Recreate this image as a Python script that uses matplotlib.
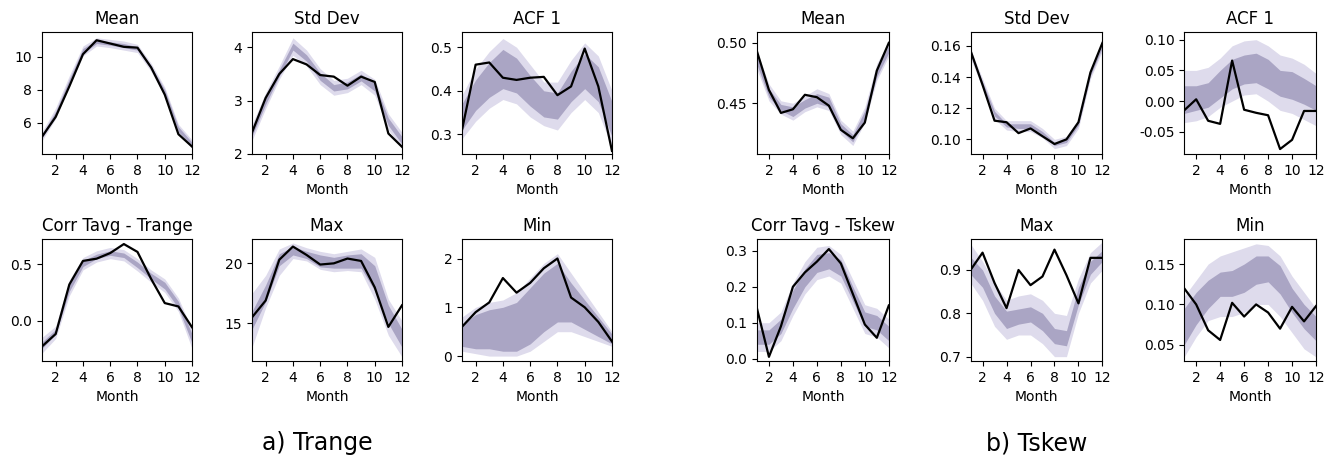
import matplotlib
matplotlib.use("Agg")
import matplotlib.pyplot as plt
import numpy as np

#--- Data (months 1..12)
months = np.arange(1, 13)

# a) Trange
tr_mean_obs = [5.15, 6.35, 8.2, 10.15, 11.0, 10.8, 10.6, 10.55, 9.35, 7.7, 5.3, 4.55]
tr_mean_out_lo = [4.9, 6.25, 8.25, 10.05, 10.65, 10.55, 10.4, 10.25, 9.1, 7.6, 5.3, 4.45]
tr_mean_out_hi = [5.45, 6.9, 8.85, 10.65, 11.15, 11.05, 10.95, 10.75, 9.6, 8.15, 5.9, 4.95]
tr_mean_in_lo = [5.05, 6.45, 8.45, 10.2, 10.8, 10.7, 10.55, 10.4, 9.25, 7.75, 5.45, 4.6]
tr_mean_in_hi = [5.3, 6.7, 8.65, 10.5, 11.0, 10.9, 10.8, 10.6, 9.45, 8.0, 5.75, 4.8]

tr_std_obs = [2.4, 3.05, 3.5, 3.78, 3.68, 3.48, 3.45, 3.28, 3.45, 3.35, 2.38, 2.13]
tr_std_out_lo = [2.25, 2.85, 3.4, 3.85, 3.65, 3.3, 3.1, 3.15, 3.3, 3.1, 2.45, 2.1]
tr_std_out_hi = [2.55, 3.15, 3.65, 4.18, 3.95, 3.6, 3.38, 3.42, 3.57, 3.4, 2.75, 2.4]
tr_std_in_lo = [2.33, 2.93, 3.46, 3.95, 3.74, 3.38, 3.18, 3.22, 3.37, 3.18, 2.53, 2.18]
tr_std_in_hi = [2.47, 3.07, 3.58, 4.08, 3.86, 3.52, 3.3, 3.35, 3.5, 3.32, 2.67, 2.32]

tr_acf_obs = [0.31, 0.46, 0.465, 0.43, 0.425, 0.43, 0.432, 0.39, 0.41, 0.497, 0.41, 0.262]
tr_acf_out_lo = [0.29, 0.33, 0.36, 0.38, 0.37, 0.34, 0.32, 0.31, 0.35, 0.38, 0.35, 0.27]
tr_acf_out_hi = [0.39, 0.45, 0.49, 0.52, 0.50, 0.46, 0.42, 0.42, 0.47, 0.51, 0.48, 0.40]
tr_acf_in_lo = [0.31, 0.355, 0.385, 0.405, 0.395, 0.365, 0.34, 0.335, 0.375, 0.405, 0.375, 0.295]
tr_acf_in_hi = [0.37, 0.425, 0.465, 0.495, 0.475, 0.435, 0.40, 0.395, 0.445, 0.485, 0.455, 0.375]

tr_corr_obs = [-0.23, -0.12, 0.32, 0.53, 0.55, 0.6, 0.68, 0.61, 0.37, 0.155, 0.125, -0.06]
tr_corr_out_lo = [-0.29, -0.16, 0.22, 0.45, 0.52, 0.55, 0.53, 0.44, 0.34, 0.25, 0.08, -0.25]
tr_corr_out_hi = [-0.15, -0.05, 0.36, 0.56, 0.62, 0.65, 0.63, 0.55, 0.45, 0.37, 0.2, -0.08]
tr_corr_in_lo = [-0.25, -0.12, 0.26, 0.48, 0.55, 0.58, 0.56, 0.47, 0.37, 0.28, 0.11, -0.2]
tr_corr_in_hi = [-0.19, -0.08, 0.33, 0.53, 0.59, 0.62, 0.6, 0.52, 0.42, 0.34, 0.17, -0.12]

tr_max_obs = [15.5, 16.9, 20.3, 21.4, 20.7, 19.9, 20.0, 20.4, 20.2, 18.0, 14.7, 16.5]
tr_max_out_lo = [13.0, 16.3, 19.0, 20.4, 20.2, 19.5, 19.3, 19.4, 19.3, 17.0, 14.0, 12.2]
tr_max_out_hi = [17.5, 19.0, 21.2, 21.7, 21.3, 21.0, 20.8, 21.0, 21.2, 20.5, 17.0, 15.2]
tr_max_in_lo = [14.5, 16.8, 19.8, 20.7, 20.4, 19.7, 19.6, 19.6, 19.6, 17.7, 15.0, 13.0]
tr_max_in_hi = [16.0, 18.2, 20.8, 21.4, 21.0, 20.7, 20.5, 20.7, 20.8, 19.8, 16.5, 14.5]

tr_min_obs = [0.6, 0.9, 1.1, 1.6, 1.3, 1.5, 1.8, 2.0, 1.2, 1.0, 0.7, 0.3]
tr_min_out_lo = [0.1, 0.05, 0.0, 0.0, 0.0, 0.1, 0.3, 0.5, 0.5, 0.4, 0.3, 0.2]
tr_min_out_hi = [0.8, 1.0, 1.1, 1.15, 1.3, 1.6, 1.9, 2.1, 1.7, 1.3, 0.9, 0.5]
tr_min_in_lo = [0.2, 0.15, 0.15, 0.1, 0.1, 0.25, 0.5, 0.7, 0.7, 0.55, 0.4, 0.25]
tr_min_in_hi = [0.65, 0.85, 0.95, 1.0, 1.1, 1.4, 1.7, 1.9, 1.5, 1.15, 0.8, 0.45]

# b) Tskew
ts_mean_obs = [0.493, 0.461, 0.442, 0.445, 0.457, 0.455, 0.448, 0.428, 0.421, 0.434, 0.477, 0.5]
ts_mean_out_lo = [0.478, 0.452, 0.441, 0.436, 0.443, 0.447, 0.444, 0.424, 0.415, 0.434, 0.469, 0.489]
ts_mean_out_hi = [0.493, 0.466, 0.452, 0.450, 0.456, 0.462, 0.458, 0.436, 0.427, 0.447, 0.483, 0.501]
ts_mean_in_lo = [0.482, 0.455, 0.444, 0.439, 0.446, 0.450, 0.447, 0.427, 0.418, 0.437, 0.472, 0.492]
ts_mean_in_hi = [0.489, 0.462, 0.449, 0.447, 0.453, 0.458, 0.455, 0.433, 0.424, 0.444, 0.479, 0.498]

ts_std_obs = [0.157, 0.135, 0.112, 0.111, 0.104, 0.107, 0.102, 0.097, 0.1, 0.111, 0.143, 0.162]
ts_std_out_lo = [0.152, 0.133, 0.113, 0.106, 0.105, 0.105, 0.101, 0.094, 0.096, 0.107, 0.139, 0.157]
ts_std_out_hi = [0.158, 0.139, 0.120, 0.112, 0.112, 0.112, 0.107, 0.100, 0.102, 0.113, 0.145, 0.163]
ts_std_in_lo = [0.154, 0.135, 0.115, 0.108, 0.107, 0.107, 0.103, 0.096, 0.098, 0.109, 0.141, 0.159]
ts_std_in_hi = [0.157, 0.137, 0.118, 0.110, 0.110, 0.110, 0.105, 0.098, 0.100, 0.111, 0.143, 0.161]

ts_acf_obs = [-0.015, 0.003, -0.032, -0.037, 0.066, -0.014, -0.019, -0.023, -0.078, -0.063, -0.016, -0.016]
ts_acf_out_lo = [-0.035, -0.032, -0.025, -0.01, 0.0, 0.01, 0.012, 0.0, -0.015, -0.02, -0.03, -0.04]
ts_acf_out_hi = [0.05, 0.05, 0.055, 0.07, 0.09, 0.098, 0.1, 0.09, 0.075, 0.07, 0.06, 0.045]
ts_acf_in_lo = [-0.02, -0.015, -0.01, 0.005, 0.02, 0.028, 0.03, 0.02, 0.008, 0.003, -0.005, -0.015]
ts_acf_in_hi = [0.025, 0.025, 0.03, 0.05, 0.068, 0.075, 0.078, 0.068, 0.05, 0.048, 0.037, 0.025]

ts_corr_obs = [0.14, 0.005, 0.09, 0.2, 0.24, 0.27, 0.305, 0.265, 0.18, 0.095, 0.058, 0.148]
ts_corr_out_lo = [0.02, 0.02, 0.05, 0.12, 0.18, 0.22, 0.23, 0.21, 0.14, 0.07, 0.06, 0.03]
ts_corr_out_hi = [0.1, 0.1, 0.13, 0.21, 0.27, 0.31, 0.315, 0.29, 0.22, 0.15, 0.14, 0.11]
ts_corr_in_lo = [0.04, 0.04, 0.07, 0.14, 0.2, 0.24, 0.25, 0.23, 0.16, 0.09, 0.08, 0.05]
ts_corr_in_hi = [0.08, 0.08, 0.11, 0.19, 0.25, 0.29, 0.295, 0.275, 0.2, 0.13, 0.12, 0.09]

ts_max_obs = [0.9, 0.94, 0.87, 0.812, 0.9, 0.865, 0.885, 0.947, 0.888, 0.823, 0.928, 0.928]
ts_max_out_lo = [0.87, 0.83, 0.77, 0.74, 0.75, 0.75, 0.73, 0.70, 0.70, 0.80, 0.87, 0.90]
ts_max_out_hi = [0.96, 0.92, 0.87, 0.83, 0.84, 0.845, 0.83, 0.80, 0.795, 0.88, 0.94, 0.965]
ts_max_in_lo = [0.89, 0.86, 0.80, 0.765, 0.775, 0.78, 0.76, 0.73, 0.725, 0.82, 0.89, 0.92]
ts_max_in_hi = [0.93, 0.90, 0.84, 0.805, 0.81, 0.815, 0.80, 0.765, 0.76, 0.86, 0.92, 0.945]

ts_min_obs = [0.12, 0.1, 0.068, 0.056, 0.102, 0.085, 0.1, 0.09, 0.07, 0.097, 0.079, 0.098]
ts_min_out_lo = [0.035, 0.06, 0.08, 0.085, 0.085, 0.09, 0.1, 0.1, 0.085, 0.065, 0.045, 0.035]
ts_min_out_hi = [0.11, 0.13, 0.15, 0.16, 0.165, 0.17, 0.175, 0.173, 0.16, 0.135, 0.115, 0.095]
ts_min_in_lo = [0.05, 0.075, 0.095, 0.11, 0.11, 0.115, 0.125, 0.128, 0.113, 0.09, 0.07, 0.055]
ts_min_in_hi = [0.095, 0.115, 0.13, 0.14, 0.142, 0.15, 0.16, 0.16, 0.148, 0.12, 0.1, 0.085]

titles_a = ["Mean", "Std Dev", "ACF 1", "Corr Tavg - Trange", "Max", "Min"]
titles_b = ["Mean", "Std Dev", "ACF 1", "Corr Tavg - Tskew", "Max", "Min"]

panels_a = [
    (tr_mean_obs, tr_mean_out_lo, tr_mean_out_hi, tr_mean_in_lo, tr_mean_in_hi, (4.1, 11.5), [6, 8, 10]),
    (tr_std_obs, tr_std_out_lo, tr_std_out_hi, tr_std_in_lo, tr_std_in_hi, (1.995, 4.29), [2, 3, 4]),
    (tr_acf_obs, tr_acf_out_lo, tr_acf_out_hi, tr_acf_in_lo, tr_acf_in_hi, (0.255, 0.535), [0.3, 0.4, 0.5]),
    (tr_corr_obs, tr_corr_out_lo, tr_corr_out_hi, tr_corr_in_lo, tr_corr_in_hi, (-0.36, 0.725), [0.0, 0.5]),
    (tr_max_obs, tr_max_out_lo, tr_max_out_hi, tr_max_in_lo, tr_max_in_hi, (11.86, 22.03), [15, 20]),
    (tr_min_obs, tr_min_out_lo, tr_min_out_hi, tr_min_in_lo, tr_min_in_hi, (-0.1, 2.4), [0, 1, 2]),
]
panels_b = [
    (ts_mean_obs, ts_mean_out_lo, ts_mean_out_hi, ts_mean_in_lo, ts_mean_in_hi, (0.408, 0.509), [0.45, 0.50]),
    (ts_std_obs, ts_std_out_lo, ts_std_out_hi, ts_std_in_lo, ts_std_in_hi, (0.0906, 0.169), [0.10, 0.12, 0.14, 0.16]),
    (ts_acf_obs, ts_acf_out_lo, ts_acf_out_hi, ts_acf_in_lo, ts_acf_in_hi, (-0.086, 0.1125), [-0.05, 0.0, 0.05, 0.10]),
    (ts_corr_obs, ts_corr_out_lo, ts_corr_out_hi, ts_corr_in_lo, ts_corr_in_hi, (-0.0065, 0.333), [0.0, 0.1, 0.2, 0.3]),
    (ts_max_obs, ts_max_out_lo, ts_max_out_hi, ts_max_in_lo, ts_max_in_hi, (0.69, 0.9715), [0.7, 0.8, 0.9]),
    (ts_min_obs, ts_min_out_lo, ts_min_out_hi, ts_min_in_lo, ts_min_in_hi, (0.030, 0.181), [0.05, 0.10, 0.15]),
]
fmt_b = ["%.2f", "%.2f", "%.2f", "%.1f", "%.1f", "%.2f"]
fmt_a = [None, None, "%.1f", "%.1f", None, None]

fig = plt.figure(figsize=(13.35, 4.65), dpi=100)

gs_a = fig.add_gridspec(2, 3, left=0.0315, right=0.4584, top=0.9312, bottom=0.2237, wspace=0.4, hspace=0.697)
gs_b = fig.add_gridspec(2, 3, left=0.567, right=0.9858, top=0.9312, bottom=0.2237, wspace=0.62, hspace=0.697)


def draw_panel(ax, title, obs, out_lo, out_hi, in_lo, in_hi, ylim, yticks, fmt):
    ax.fill_between(months, out_lo, out_hi, color="#dedbec", lw=0)
    ax.fill_between(months, in_lo, in_hi, color="#aaa5c4", lw=0)
    ax.plot(months, obs, color="black", lw=1.6)
    ax.set_xlim(1, 12)
    ax.set_ylim(*ylim)
    ax.set_xticks([2, 4, 6, 8, 10, 12])
    ax.set_yticks(yticks)
    if fmt:
        ax.set_yticklabels([fmt % v for v in yticks])
    ax.set_title(title, fontsize=12)
    ax.set_xlabel("Month", fontsize=10)


for i in range(6):
    ax = fig.add_subplot(gs_a[i // 3, i % 3])
    p = panels_a[i]
    draw_panel(ax, titles_a[i], *p, fmt_a[i])
    ax = fig.add_subplot(gs_b[i // 3, i % 3])
    p = panels_b[i]
    draw_panel(ax, titles_b[i], *p, fmt_b[i])

cap_font = ["Liberation Sans Narrow", "DejaVu Sans"]
fig.text(0.2375, 0.047, "a) Trange", ha="center", va="center", fontsize=17, family=cap_font)
fig.text(0.7765, 0.047, "b) Tskew", ha="center", va="center", fontsize=17, family=cap_font)

fig.savefig("out.png", dpi=100)
